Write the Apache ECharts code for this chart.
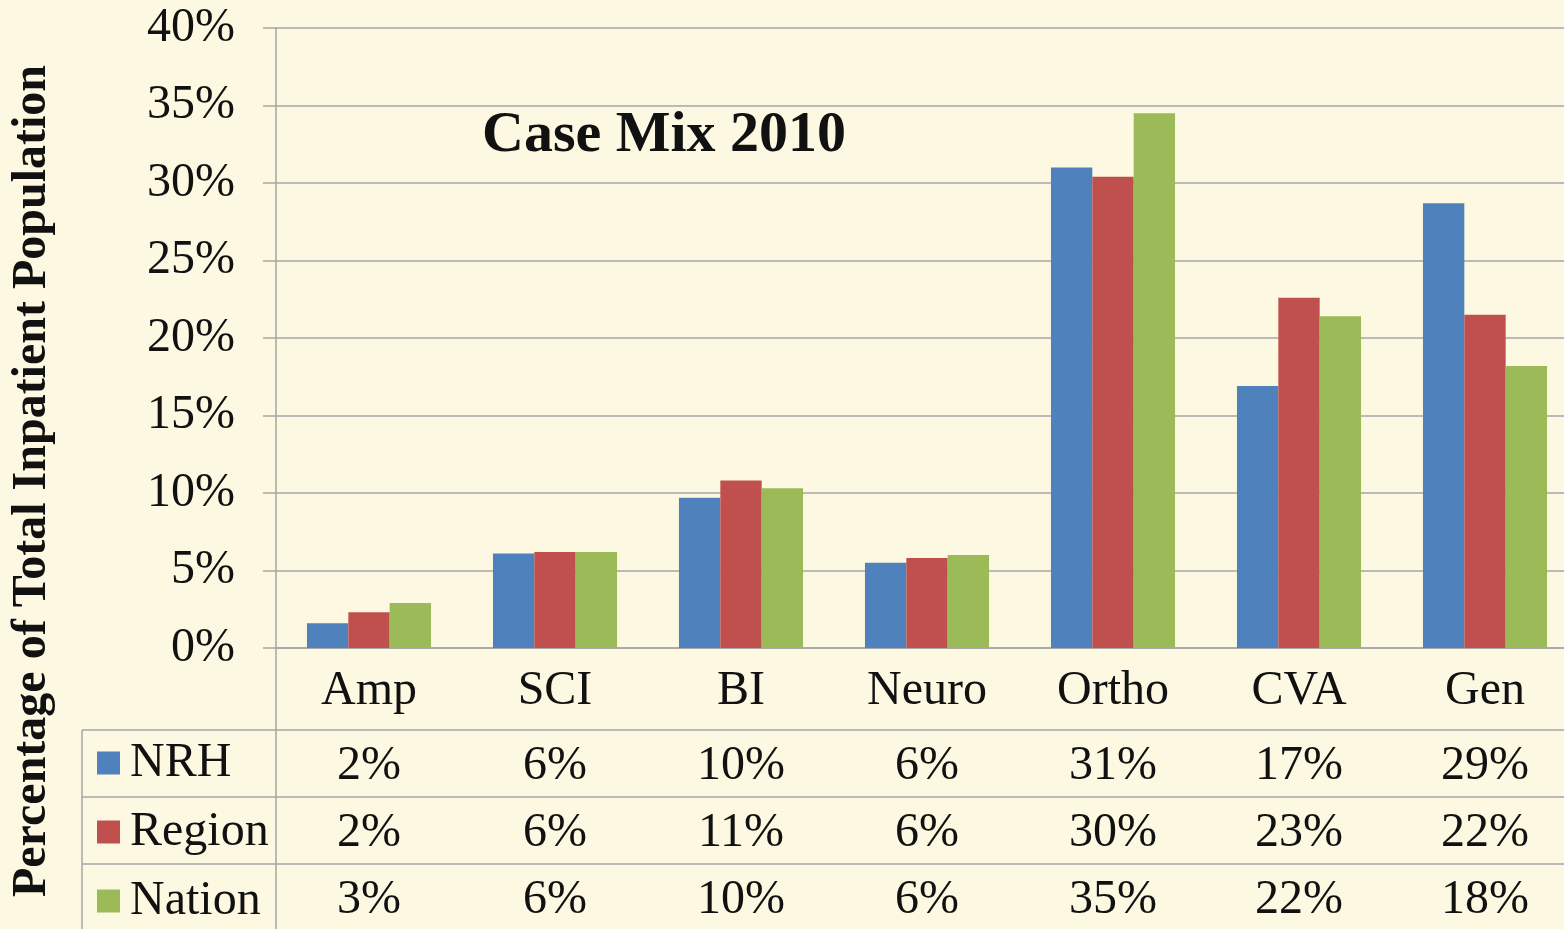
<!DOCTYPE html>
<html>
<head>
<meta charset="utf-8">
<title>Case Mix 2010</title>
<script src="https://cdn.jsdelivr.net/npm/echarts@6/dist/echarts.min.js"></script>
<style>
  html, body { margin: 0; padding: 0; background: #fcf8e1; overflow: hidden; }
  /* the plot runs a little past the right edge of the picture */
  #chart { width: 1578px; height: 929px; }
</style>
</head>
<body>
<div id="chart"></div>
<script>
// 数据
const categories = ['Amp', 'SCI', 'BI', 'Neuro', 'Ortho', 'CVA', 'Gen']
const seriesNames = ['NRH', 'Region', 'Nation']
// bar heights (%)
const nrhValues = [1.6, 6.1, 9.7, 5.5, 31.0, 16.9, 28.7]
const regionValues = [2.3, 6.2, 10.8, 5.8, 30.4, 22.6, 21.5]
const nationValues = [2.9, 6.2, 10.3, 6.0, 34.5, 21.4, 18.2]
// values printed in the data table
const nrhTable = [2, 6, 10, 6, 31, 17, 29]
const regionTable = [2, 6, 11, 6, 30, 23, 22]
const nationTable = [3, 6, 10, 6, 35, 22, 18]
const yTicks = [0, 5, 10, 15, 20, 25, 30, 35, 40]

const colors = ['#4f81bd', '#c0504d', '#9bbb59']
const gridColor = '#a6a6a6'
const textColor = '#111'
const font = 'Liberation Serif'
const fs = 48

const chart = echarts.init(document.getElementById('chart'))

// 表格行：用额外的类目轴显示数值
function tableAxis(values, offset) {
  return {
    type: 'category',
    data: categories,
    position: 'bottom',
    offset: offset,
    axisLine: { show: false },
    axisTick: { show: false },
    axisLabel: {
      interval: 0,
      margin: 0,
      verticalAlign: 'middle',
      color: textColor,
      fontFamily: font,
      fontSize: fs,
      formatter: (v, i) => values[i] + '%'
    }
  }
}

const line = (x1, y1, x2, y2) => ({
  type: 'line',
  shape: { x1, y1, x2, y2 },
  style: { stroke: gridColor, lineWidth: 1.5 },
  silent: true
})

const option = {
  backgroundColor: '#fcf8e1',
  animation: false,
  title: {
    text: 'Case Mix 2010',
    left: 482,
    top: 107,
    padding: 0,
    textStyle: { fontFamily: font, fontSize: 58, fontWeight: 'bold', color: textColor }
  },
  legend: {
    orient: 'vertical',
    left: 97,
    top: 739,
    padding: 0,
    itemWidth: 23,
    itemHeight: 23,
    itemGap: 21,
    icon: 'rect',
    data: seriesNames,
    textStyle: { fontFamily: font, fontSize: fs, lineHeight: 46, color: textColor, padding: [0, 0, 0, 5] }
  },
  grid: { left: 276, right: 0, top: 28, bottom: 281, containLabel: false },
  xAxis: [
    {
      type: 'category',
      data: categories,
      axisLine: { show: true, lineStyle: { color: gridColor, width: 1.5 } },
      axisTick: { show: false },
      axisLabel: {
        interval: 0,
        margin: 43,
        verticalAlign: 'middle',
        color: textColor,
        fontFamily: font,
        fontSize: fs
      }
    },
    tableAxis(nrhTable, 118),
    tableAxis(regionTable, 185),
    tableAxis(nationTable, 252)
  ],
  yAxis: {
    type: 'value',
    min: yTicks[0],
    max: yTicks[yTicks.length - 1],
    interval: 5,
    axisLine: { show: true, lineStyle: { color: gridColor, width: 1.5 } },
    axisTick: { show: true, length: 13, lineStyle: { color: gridColor, width: 1.5 } },
    splitLine: { show: true, lineStyle: { color: gridColor, width: 1.5 } },
    axisLabel: {
      margin: 41,
      color: textColor,
      fontFamily: font,
      fontSize: fs,
      formatter: '{value}%'
    }
  },
  graphic: [
    // 表格线
    line(82, 730, 1578, 730),
    line(82, 797, 1578, 797),
    line(82, 864, 1578, 864),
    line(82, 730, 82, 929),
    line(276, 648, 276, 929),
    {
      type: 'text',
      x: 33,
      y: 481,
      rotation: Math.PI / 2,
      style: {
        text: 'Percentage of Total Inpatient Population',
        fontFamily: font,
        fontSize: 48,
        fontWeight: 'bold',
        fill: textColor,
        align: 'center',
        verticalAlign: 'middle'
      }
    }
  ],
  series: [
    { name: seriesNames[0], type: 'bar', data: nrhValues, itemStyle: { color: colors[0] }, barGap: '0%', barCategoryGap: '33.3%' },
    { name: seriesNames[1], type: 'bar', data: regionValues, itemStyle: { color: colors[1] }, barGap: '0%', barCategoryGap: '33.3%' },
    { name: seriesNames[2], type: 'bar', data: nationValues, itemStyle: { color: colors[2] }, barGap: '0%', barCategoryGap: '33.3%' }
  ]
}

chart.setOption(option)
</script>
</body>
</html>
